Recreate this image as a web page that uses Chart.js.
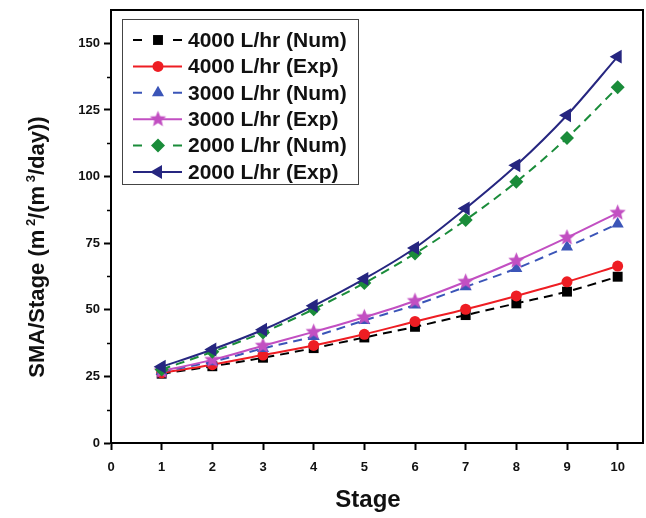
<!DOCTYPE html>
<html>
<head>
<meta charset="utf-8">
<script src="https://cdn.jsdelivr.net/npm/chart.js@4.4.0/dist/chart.umd.min.js"></script>
<style>
    html, body { margin: 0; padding: 0; background: #fff; }
    #wrap { width: 646px; height: 518px; }
</style>
</head>
<body>
<div id="wrap"><canvas id="smaChart" width="646" height="518"></canvas></div>
<script>
// Data
const stages = [1, 2, 3, 4, 5, 6, 7, 8, 9, 10];
const num4000 = [26, 28.8, 32, 35.6, 39.6, 43.6, 48, 52.4, 56.8, 62.4];
const exp4000 = [26.3, 29.4, 33, 36.6, 40.8, 45.6, 50.2, 55.2, 60.5, 66.4];
const num3000 = [26.8, 30.5, 35.5, 40, 46, 51.8, 58.6, 65.5, 73.6, 82.2];
const exp3000 = [27, 31.2, 36.5, 41.7, 47.2, 53.3, 60.5, 68.4, 77.1, 86.4];
const num2000 = [27.6, 34.2, 41.5, 50.2, 60, 71.1, 83.7, 98, 114.5, 133.5];
const exp2000 = [28.6, 35.1, 42.5, 51.5, 61.6, 73.2, 88, 104.2, 123, 145];
const yTicks = [0, 25, 50, 75, 100, 125, 150];
const xTicks = [0, 1, 2, 3, 4, 5, 6, 7, 8, 9, 10];

const FONT = '"Liberation Sans", Arial, sans-serif';

// filled five point star for the 3000 L/hr (Exp) series
function makeStar(color, r) {
    const c = document.createElement('canvas');
    const s = Math.ceil(r * 2 + 2);
    c.width = c.height = s;
    const g = c.getContext('2d');
    g.fillStyle = color;
    g.beginPath();
    for (let i = 0; i < 10; i++) {
        const rad = i % 2 ? r * 0.45 : r;
        const a = -Math.PI / 2 + i * Math.PI / 5;
        g.lineTo(s / 2 + rad * Math.cos(a), s / 2 + rad * Math.sin(a));
    }
    g.closePath();
    g.fill();
    return c;
}

const starImg = makeStar('#c24fc2', 8.5);

function series(label, values, color, pointStyle, radius, dashed, rotation) {
    return {
        label: label,
        data: stages.map((s, i) => ({ x: s, y: values[i] })),
        borderColor: color,
        backgroundColor: color,
        pointBackgroundColor: color,
        pointBorderColor: color,
        borderWidth: 2,
        borderDash: dashed ? [9, 6] : [],
        pointStyle: pointStyle,
        pointRadius: radius,
        pointRotation: rotation || 0,
        pointBorderWidth: 0,
        cubicInterpolationMode: 'monotone',
        fill: false
    };
}

const datasets = [
    series('4000 L/hr (Num)', num4000, '#000000', 'rect', 7, true),
    series('4000 L/hr (Exp)', exp4000, '#ee1d23', 'circle', 5.5, false),
    series('3000 L/hr (Num)', num3000, '#3b55b8', 'triangle', 7, true),
    series('3000 L/hr (Exp)', exp3000, '#c24fc2', starImg, 8, false),
    series('2000 L/hr (Num)', num2000, '#1a8c3a', 'rectRot', 7, true),
    series('2000 L/hr (Exp)', exp2000, '#262680', 'triangle', 8, false, -90)
];
// later series drawn on top
datasets.forEach((d, i) => { d.order = datasets.length - i; });

// y title with raised exponents, drawn piece by piece
function drawYTitle(ctx, cx, cy) {
    const parts = [
        { t: 'SMA/Stage (m', size: 22, rise: 0 },
        { t: ' 2', size: 13, rise: 9 },
        { t: '/(m', size: 22, rise: 0 },
        { t: ' 3', size: 13, rise: 9 },
        { t: '/day))', size: 22, rise: 0 }
    ];
    let total = 0;
    parts.forEach(p => {
        ctx.font = 'bold ' + p.size + 'px ' + FONT;
        p.w = ctx.measureText(p.t).width;
        total += p.w;
    });
    ctx.save();
    ctx.translate(cx, cy);
    ctx.rotate(-Math.PI / 2);
    ctx.textAlign = 'left';
    ctx.textBaseline = 'alphabetic';
    let x = -total / 2;
    parts.forEach(p => {
        ctx.font = 'bold ' + p.size + 'px ' + FONT;
        ctx.fillText(p.t, x, 8 - p.rise);
        x += p.w;
    });
    ctx.restore();
}

// box around the plot, minor y ticks, axis titles
const framePlugin = {
    id: 'frame',
    beforeDatasetsDraw(chart) {
        const { ctx, chartArea: a } = chart;
        ctx.save();
        ctx.strokeStyle = '#000';
        ctx.lineWidth = 2;
        ctx.strokeRect(a.left, a.top, a.right - a.left, a.bottom - a.top);
        // minor ticks
        const y = chart.scales.y;
        ctx.lineWidth = 1.5;
        for (let v = 12.5; v < 162.5; v += 25) {
            const py = Math.round(y.getPixelForValue(v)) + 0.5;
            ctx.beginPath();
            ctx.moveTo(a.left - 4, py);
            ctx.lineTo(a.left, py);
            ctx.stroke();
        }
        ctx.restore();
    },
    afterDraw(chart) {
        const { ctx } = chart;
        ctx.save();
        ctx.fillStyle = '#111';
        ctx.textAlign = 'center';
        ctx.textBaseline = 'middle';
        ctx.font = 'bold 24px ' + FONT;
        ctx.fillText('Stage', 368, 500);
        drawYTitle(ctx, 36, 247);
        ctx.restore();
    }
};

// legend drawn inside the plot, top left
const insideLegend = {
    id: 'insideLegend',
    afterDraw(chart) {
        const { ctx } = chart;
        const box = { x: 122, y: 19, w: 236, h: 165 };
        ctx.save();
        ctx.fillStyle = '#fff';
        ctx.fillRect(box.x, box.y, box.w, box.h);
        ctx.strokeStyle = '#444';
        ctx.lineWidth = 1;
        ctx.strokeRect(box.x + 0.5, box.y + 0.5, box.w, box.h);
        chart.data.datasets.forEach((ds, i) => {
            const cy = 40 + i * 26.4;
            ctx.strokeStyle = ds.borderColor;
            ctx.fillStyle = ds.borderColor;
            ctx.lineWidth = 2;
            ctx.setLineDash([]);
            ctx.beginPath();
            if (ds.borderDash.length) {
                ctx.moveTo(133, cy); ctx.lineTo(142, cy);
                ctx.moveTo(173, cy); ctx.lineTo(182, cy);
            } else {
                ctx.moveTo(133, cy); ctx.lineTo(182, cy);
            }
            ctx.stroke();
            Chart.helpers.drawPoint(ctx, {
                pointStyle: ds.pointStyle,
                radius: ds.pointRadius,
                rotation: ds.pointRotation,
                borderWidth: 0
            }, 158, cy);
            ctx.fillStyle = '#111';
            ctx.font = 'bold 21px ' + FONT;
            ctx.textAlign = 'left';
            ctx.textBaseline = 'middle';
            ctx.fillText(ds.label, 188, cy + 1);
        });
        ctx.restore();
    }
};

const tickFont = { family: FONT, size: 13, weight: 'bold' };

new Chart(document.getElementById('smaChart').getContext('2d'), {
    type: 'line',
    data: { datasets: datasets },
    options: {
        responsive: false,
        animation: false,
        devicePixelRatio: 1,
        layout: { autoPadding: false, padding: { left: 0, right: 3, top: 10, bottom: 0 } },
        plugins: {
            legend: { display: false },
            tooltip: { enabled: false }
        },
        scales: {
            x: {
                type: 'linear',
                min: 0,
                max: 10.5,
                border: { color: '#000', width: 2 },
                grid: { drawOnChartArea: false, drawTicks: true, tickLength: 7, tickColor: '#000', tickWidth: 2 },
                ticks: {
                    stepSize: 1,
                    includeBounds: false,
                    autoSkip: false,
                    maxRotation: 0,
                    padding: 10,
                    color: '#111',
                    font: tickFont,
                    callback: v => xTicks.includes(v) ? String(v) : ''
                },
                afterFit(scale) {
                    scale.height = 75;
                    scale.paddingLeft = 0;
                    scale.paddingRight = 0;
                }
            },
            y: {
                type: 'linear',
                min: 0,
                max: 162.5,
                border: { color: '#000', width: 2 },
                grid: { drawOnChartArea: false, drawTicks: true, tickLength: 7, tickColor: '#000', tickWidth: 2 },
                ticks: {
                    stepSize: 25,
                    includeBounds: false,
                    padding: 4,
                    color: '#111',
                    font: tickFont,
                    callback: v => yTicks.includes(v) ? String(v) : ''
                },
                afterFit(scale) {
                    scale.width = 111;
                    scale.paddingTop = 0;
                    scale.paddingBottom = 0;
                }
            }
        }
    },
    plugins: [framePlugin, insideLegend]
});
</script>
</body>
</html>
